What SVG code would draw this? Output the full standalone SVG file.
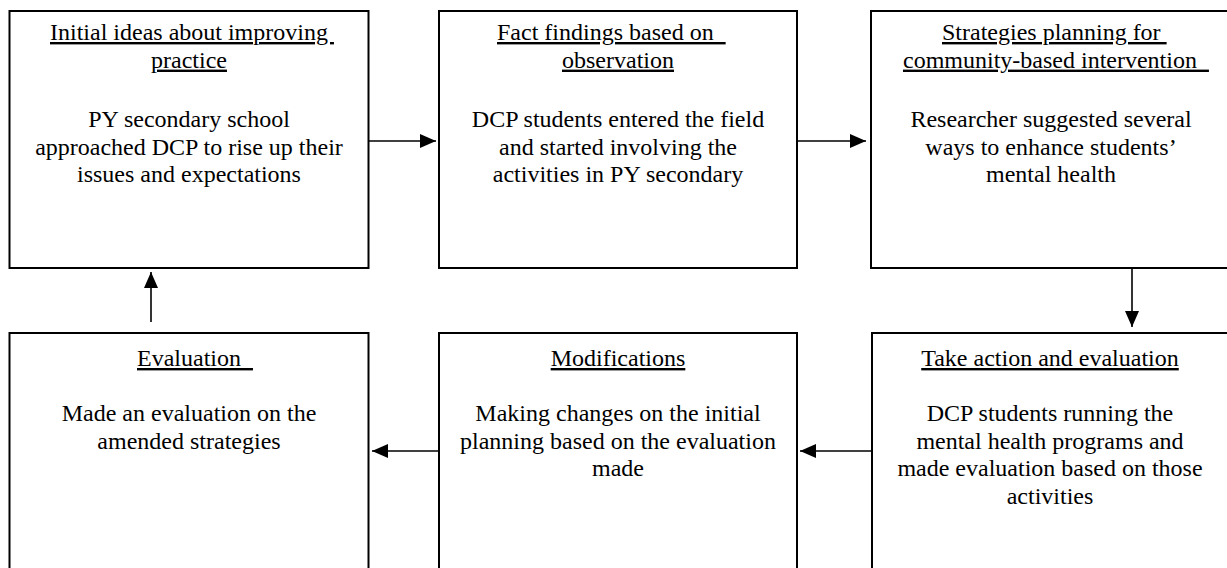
<svg xmlns="http://www.w3.org/2000/svg" width="1227" height="568" viewBox="0 0 1227 568">
<style>
.box{fill:#fff;stroke:#000;stroke-width:2}
text{font-family:"Liberation Serif","Times New Roman",serif;font-size:24px;fill:#000;white-space:pre}
.c{text-anchor:middle}
.u{text-decoration:underline}
.conn{stroke:#000;stroke-width:1.6;fill:none;marker-end:url(#ah)}
</style>
<defs>
<marker id="ah" markerUnits="userSpaceOnUse" markerWidth="16" markerHeight="14" refX="16" refY="7" orient="auto">
<path d="M0,0 L16,7 L0,14 Z" fill="#000"/>
</marker>
</defs>
<rect width="1227" height="568" fill="#fff"/>
<g id="n1">
<rect class="box" x="9.5" y="11" width="359" height="257"/>
<text class="u" x="50" y="40">Initial ideas about improving </text>
<text class="c u" x="189" y="67.6">practice</text>
<text class="c" x="189" y="127">PY secondary school</text>
<text class="c" x="189" y="154.6">approached DCP to rise up their</text>
<text class="c" x="189" y="182.2">issues and expectations</text>
</g>
<g id="n2">
<rect class="box" x="439" y="11" width="358" height="257"/>
<text class="u" x="497" y="40">Fact findings based on  </text>
<text class="c u" x="618" y="67.6">observation</text>
<text class="c" x="618" y="127">DCP students entered the field</text>
<text class="c" x="618" y="154.6">and started involving the</text>
<text class="c" x="618" y="182.2">activities in PY secondary</text>
</g>
<g id="n3">
<rect class="box" x="871" y="11" width="362" height="257"/>
<text class="u" x="942" y="40">Strategies planning for </text>
<text class="u" x="903" y="67.6">community-based intervention  </text>
<text class="c" x="1051" y="127">Researcher suggested several</text>
<text class="c" x="1051" y="154.6">ways to enhance students’</text>
<text class="c" x="1051" y="182.2">mental health</text>
</g>
<g id="n4">
<rect class="box" x="9.5" y="333" width="359" height="250"/>
<text class="u" x="137" y="366">Evaluation  </text>
<text class="c" x="189" y="421">Made an evaluation on the</text>
<text class="c" x="189" y="448.6">amended strategies</text>
</g>
<g id="n5">
<rect class="box" x="439" y="333" width="358" height="250"/>
<text class="c u" x="618" y="366">Modifications</text>
<text class="c" x="618" y="421">Making changes on the initial</text>
<text class="c" x="618" y="448.6">planning based on the evaluation</text>
<text class="c" x="618" y="476.2">made</text>
</g>
<g id="n6">
<rect class="box" x="872" y="333" width="362" height="250"/>
<text class="c u" x="1050" y="366">Take action and evaluation</text>
<text class="c" x="1050" y="421">DCP students running the</text>
<text class="c" x="1050" y="448.6">mental health programs and</text>
<text class="c" x="1050" y="476.2">made evaluation based on those</text>
<text class="c" x="1050" y="503.8">activities</text>
</g>
<g id="connectors">
<path class="conn" d="M369,141 L436,141"/>
<path class="conn" d="M797,141 L866,141"/>
<path class="conn" d="M1132,269 L1132,327"/>
<path class="conn" d="M871,451 L800,451"/>
<path class="conn" d="M439,451 L372,451"/>
<path class="conn" d="M151,322 L151,272"/>
</g>
</svg>
